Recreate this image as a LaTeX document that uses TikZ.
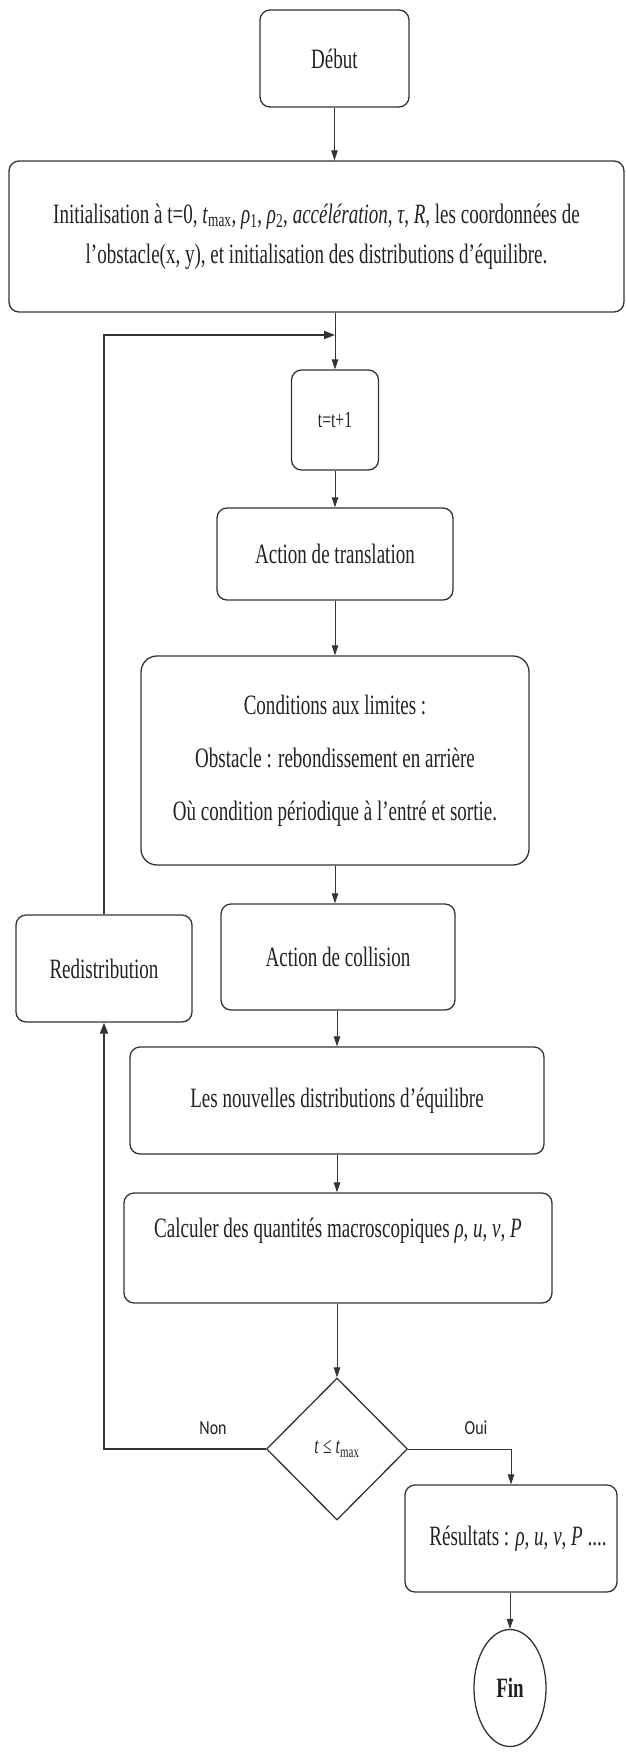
\documentclass[tikz,border=0pt]{standalone}
\usepackage{fontspec}
\setmainfont{Liberation Serif}[FakeStretch=0.68]
\newfontfamily\lblfont{Carlito}[FakeStretch=0.8]
\usetikzlibrary{arrows.meta,shapes.geometric}
\definecolor{linec}{HTML}{333333}
\definecolor{txtc}{HTML}{222222}
\newcommand{\mainsz}{\fontsize{28pt}{36pt}\selectfont}
\newcommand{\smallsz}{\fontsize{23pt}{30pt}\selectfont}
\begin{document}
\begin{tikzpicture}[x=1pt,y=-1pt,
  box/.style={draw=linec, line width=1.3pt, rounded corners=10pt, align=center,
    text=txtc, font=\mainsz, inner sep=0pt},
  arr/.style={draw=linec, line width=1pt, -{Triangle[length=10pt,width=6.5pt]}},
  fbarr/.style={draw=linec, line width=2pt, -{Triangle[length=11pt,width=8pt]}},
  lbl/.style={font=\lblfont\fontsize{20pt}{24pt}\selectfont, text=txtc, inner sep=0pt}]
\useasboundingbox (0,0) rectangle (625,1753);

\node[box, minimum width=149pt, minimum height=97pt] (debut) at (334.5,58.5) {Début};

\node[box, minimum width=615pt, minimum height=151pt,
  font=\fontsize{28pt}{40pt}\selectfont] (init) at (316.5,236.5)
  {Initialisation à t=0, \textit{t}\textsubscript{max}, \textit{ρ}\textsubscript{1}, \textit{ρ}\textsubscript{2}, \textit{accélération}, \textit{τ}, \textit{R}, les coordonnées de\\
   l'obstacle(x, y), et initialisation des distributions d'équilibre.};

\coordinate (j) at (335,335);

\node[box, minimum width=87pt, minimum height=100pt, font=\smallsz] (tbox) at (335,420) {t=t+1};

\node[box, minimum width=236pt, minimum height=92pt] (trans) at (335,554) {Action de translation};

\node[box, rounded corners=16pt, minimum width=388pt, minimum height=209pt,
  font=\fontsize{28pt}{53pt}\selectfont] (cond) at (335,760.5)
  {Conditions aux limites :\\ Obstacle : rebondissement en arrière\\ Où condition périodique à l'entré et sortie.};

\node[box, minimum width=234pt, minimum height=106pt] (coll) at (338,957) {Action de collision};

\node[box, minimum width=176pt, minimum height=107pt] (redis) at (104,968.5) {Redistribution};

\node[box, minimum width=414pt, minimum height=107pt] (nouv) at (337,1100.5) {Les nouvelles distributions d'équilibre};

\node[box, minimum width=428pt, minimum height=110pt, text height=19pt, text depth=41pt] (calc) at (338,1248)
  {Calculer des quantités macroscopiques \textit{ρ}, \textit{u}, \textit{v}, \textit{P}};

\node[diamond, draw=linec, line width=1.3pt, minimum width=141pt, minimum height=142pt,
  inner sep=0pt, text=txtc, font=\smallsz] (dia) at (337,1449)
  {\textit{t} ≤ \textit{t}\textsubscript{max}};

\node[lbl] (non) at (213,1428) {Non};
\node[lbl] (oui) at (476,1428) {Oui};

\node[box, minimum width=212pt, minimum height=107pt] (res) at (511,1538.5)
  {\hspace*{14pt}Résultats : \textit{ρ}, \textit{u}, \textit{v}, \textit{P} ....};

\node[ellipse, draw=linec, line width=1.3pt, minimum width=72pt, minimum height=117pt,
  inner sep=0pt, text=txtc, font=\mainsz\bfseries] (fin) at (510,1688) {Fin};

% main flow
\draw[arr] (debut.south) -- (debut.south |- init.north);
\draw[arr] (init.south -| tbox.north) -- (tbox.north);
\draw[arr] (tbox.south) -- (tbox.south |- trans.north);
\draw[arr] (trans.south) -- (trans.south |- cond.north);
\draw[arr] (cond.south) -- (cond.south |- coll.north);
\draw[arr] (coll.south -| nouv.north) -- (nouv.north);
\draw[arr] (nouv.south) -- (nouv.south |- calc.north);
\draw[arr] (calc.south -| dia.north) -- (dia.north);
\draw[arr] (dia.east) -| (res.north);
\draw[arr] (res.south -| fin.north) -- (fin.north);

% feedback loop
\draw[fbarr] (dia.west) -| (redis.south);
\draw[fbarr] (redis.north) |- (j);
\end{tikzpicture}
\end{document}
